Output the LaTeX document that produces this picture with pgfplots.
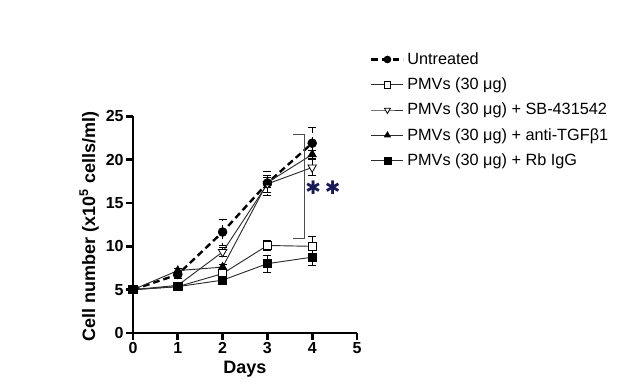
\documentclass[border=0pt]{standalone}
\usepackage{fontspec}
\setmainfont{Liberation Sans}
\newfontfamily\dejavu{DejaVu Sans}
\usepackage{pgfplots}
\pgfplotsset{compat=1.18}
\definecolor{gline}{RGB}{45,45,45}
\definecolor{navy}{RGB}{25,25,85}
\begin{document}
\begin{tikzpicture}
\path[use as bounding box] (0pt,0pt) rectangle (471pt,294pt);
\begin{axis}[
  at={(99.75pt,44.25pt)}, anchor=south west,
  scale only axis, width=168pt, height=162.5pt,
  xmin=0, xmax=5, ymin=0, ymax=25,
  axis x line*=bottom, axis y line*=left,
  axis line style={line width=2.2pt},
  xtick={0,1,2,3,4,5}, ytick={0,5,10,15,20,25},
  tick align=outside, major tick length=5pt,
  tick style={line width=2.2pt, black},
  ticklabel style={font=\fontsize{12}{14}\selectfont\bfseries},
  xticklabel style={yshift=1.5pt},
  yticklabel style={xshift=1.5pt},
  /pgf/number format/assume math mode=true,
  xlabel={Days},
  ylabel={Cell number (x10\textsuperscript{5} cells/ml)},
  label style={font=\fontsize{13.5}{16}\selectfont\bfseries},
  xlabel style={at={(axis description cs:0.5,-0.166)}, anchor=center},
  ylabel style={at={(axis description cs:-0.196,0.49)}, anchor=center},
  clip=false,
  legend cell align=left,
  legend style={at={(1.04,1.32)}, anchor=north west, draw=none, fill=none,
    font=\fontsize{12.2}{14}\selectfont, row sep=4.6pt,
    /tikz/every even column/.append style={column sep=2pt}},
  legend image code/.code={\draw[mark repeat=2,mark phase=2] plot coordinates {(0pt,0pt) (12pt,0pt) (24pt,0pt)};},
  legend image post style={mark size=2.6pt},
  error bars/y dir=both, error bars/y explicit,
  error bars/error bar style={line width=0.6pt, black},
  error bars/error mark options={rotate=90, mark size=3pt, line width=0.6pt, black},
]
\addplot[black, line width=1.8pt, dash pattern=on 5pt off 3pt, mark=*, mark size=3.3pt, mark options={solid, fill=black, line width=0.5pt}]
 coordinates {(0,5) +- (0,0.2) (1,6.75) +- (0,0.4) (2,11.65) +- (0,1.5) (3,17.3) +- (0,1.4) (4,21.9) +- (0,1.8)};
\addlegendentry{Untreated}
\addplot[gline, line width=0.7pt, mark=square*, mark size=3.1pt, mark options={fill=white, draw=black, line width=0.6pt}]
 coordinates {(0,5) +- (0,0.1) (1,5.35) +- (0,0.3) (2,6.85) +- (0,0.3) (3,10.1) +- (0,0.6) (4,10.0) +- (0,1.1)};
\addlegendentry{PMVs (30 μg)}
\addplot[gline, line width=0.7pt, mark=triangle*, mark size=3.6pt, mark options={rotate=180, fill=white, draw=black, line width=0.6pt}]
 coordinates {(0,5) +- (0,0.1) (1,5.5) +- (0,0.2) (2,9.35) +- (0,0.5) (3,17.2) +- (0,1.0) (4,19.1) +- (0,0.9)};
\addlegendentry{PMVs (30 μg) + SB-431542}
\addplot[gline, line width=0.7pt, mark=triangle*, mark size=3.6pt, mark options={fill=black, draw=black, line width=0.5pt}]
 coordinates {(0,5) +- (0,0.1) (1,7.2) +- (0,0.2) (2,7.6) +- (0,0.3) (3,17.35) +- (0,0.6) (4,20.6) +- (0,0.5)};
\addlegendentry{PMVs (30 μg) + anti-TGFβ1}
\addplot[gline, line width=0.7pt, mark=square*, mark size=3.1pt, mark options={fill=black, draw=black, line width=0.5pt}]
 coordinates {(0,5) +- (0,0.1) (1,5.35) +- (0,0.3) (2,6.1) +- (0,0.3) (3,8.0) +- (0,1.0) (4,8.75) +- (0,0.9)};
\addlegendentry{PMVs (30 μg) + Rb IgG}
\draw[black!70, line width=0.7pt] (axis cs:3.57,22.95) -- (axis cs:3.82,22.95) -- (axis cs:3.82,10.96) -- (axis cs:3.57,10.96);
\node[navy, font=\dejavu\fontsize{14}{16}\selectfont, inner sep=0pt] at (axis cs:4.24,16.8) {✱\hspace{3pt}✱};
\end{axis}
\end{tikzpicture}
\end{document}
